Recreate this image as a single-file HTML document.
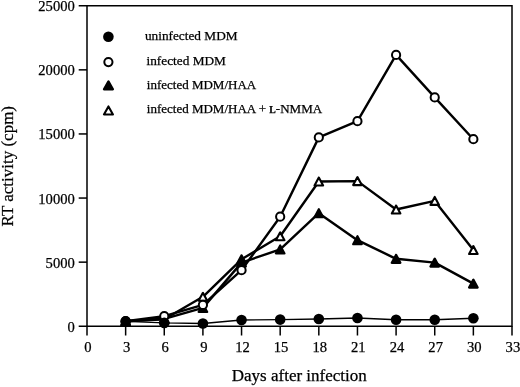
<!DOCTYPE html>
<html lang="en"><head><meta charset="utf-8"><title>RT activity chart</title>
<style>
html,body{margin:0;padding:0;background:#fff}
body{width:520px;height:387px;overflow:hidden}
svg{display:block;font-family:"Liberation Serif",serif;fill:#000}
text{stroke:#000;stroke-width:0.25px}
.ticks text{font-size:14.6px}
.legend text{font-size:13px}
.legend .r12{font-size:13.3px}
.legend .sc{font-size:9.8px;font-weight:bold}
.title{font-size:17px}
</style></head>
<body>
<svg width="520" height="387" viewBox="0 0 520 387">
<rect width="520" height="387" fill="#fff"/>
<g fill="none" stroke="#000" stroke-width="1.5">
<path d="M87.0,5.75 H512.0 V326.25 H87.0 Z"/>
<path d="M78.7,326.25 H87.0"/>
<path d="M78.7,262.15 H87.0"/>
<path d="M78.7,198.05 H87.0"/>
<path d="M78.7,133.95 H87.0"/>
<path d="M78.7,69.85 H87.0"/>
<path d="M78.7,5.75 H87.0"/>
<path d="M87,326.25 V335.5"/>
<path d="M125.64,326.25 V335.5"/>
<path d="M164.27,326.25 V335.5"/>
<path d="M202.91,326.25 V335.5"/>
<path d="M241.55,326.25 V335.5"/>
<path d="M280.18,326.25 V335.5"/>
<path d="M318.82,326.25 V335.5"/>
<path d="M357.45,326.25 V335.5"/>
<path d="M396.09,326.25 V335.5"/>
<path d="M434.73,326.25 V335.5"/>
<path d="M473.36,326.25 V335.5"/>
<path d="M512,326.25 V335.5"/>
</g>
<g class="ticks">
<text x="74.8" y="331.75" text-anchor="end">0</text>
<text x="74.8" y="267.65" text-anchor="end">5000</text>
<text x="74.8" y="203.55" text-anchor="end">10000</text>
<text x="74.8" y="139.45" text-anchor="end">15000</text>
<text x="74.8" y="75.35" text-anchor="end">20000</text>
<text x="74.8" y="11.25" text-anchor="end">25000</text>
<text x="87.9" y="352.4" text-anchor="middle">0</text>
<text x="126.54" y="352.4" text-anchor="middle">3</text>
<text x="165.17" y="352.4" text-anchor="middle">6</text>
<text x="203.81" y="352.4" text-anchor="middle">9</text>
<text x="242.45" y="352.4" text-anchor="middle">12</text>
<text x="281.08" y="352.4" text-anchor="middle">15</text>
<text x="319.72" y="352.4" text-anchor="middle">18</text>
<text x="358.35" y="352.4" text-anchor="middle">21</text>
<text x="396.99" y="352.4" text-anchor="middle">24</text>
<text x="435.63" y="352.4" text-anchor="middle">27</text>
<text x="474.26" y="352.4" text-anchor="middle">30</text>
<text x="512.9" y="352.4" text-anchor="middle">33</text>
</g>
<g fill="none" stroke="#000" stroke-width="2.4" stroke-linejoin="round">
<polyline points="125.64,321.2 164.27,319.2 202.91,296.8 241.55,259.3 280.18,236.3 318.82,181.5 357.45,181.1 396.09,209.5 434.73,200.9 473.36,250"/>
<polyline points="125.64,321.2 164.27,318.8 202.91,307.9 241.55,262.6 280.18,249.4 318.82,213.2 357.45,240.2 396.09,258.8 434.73,262.6 473.36,283.6"/>
<polyline points="125.64,321.2 164.27,316.2 202.91,304.9 241.55,270.2 280.18,216.7 318.82,137.4 357.45,121.2 396.09,54.9 434.73,97.4 473.36,139.2"/>
<polyline points="125.64,321.4 164.27,322.9 202.91,323.5 241.55,320 280.18,319.6 318.82,319 357.45,318 396.09,319.8 434.73,319.8 473.36,318.2" stroke-width="1.4"/>
</g>
<g class="m-ot">
<polygon points="125.64,317.2 121.34,325.2 129.94,325.2" fill="#fff" stroke="#000" stroke-width="2.1" stroke-linejoin="round"/>
<polygon points="164.27,315.2 159.97,323.2 168.57,323.2" fill="#fff" stroke="#000" stroke-width="2.1" stroke-linejoin="round"/>
<polygon points="202.91,292.8 198.61,300.8 207.21,300.8" fill="#fff" stroke="#000" stroke-width="2.1" stroke-linejoin="round"/>
<polygon points="241.55,255.3 237.25,263.3 245.85,263.3" fill="#000" stroke="#000" stroke-width="2.2" stroke-linejoin="round"/>
<polygon points="280.18,232.3 275.88,240.3 284.48,240.3" fill="#fff" stroke="#000" stroke-width="2.1" stroke-linejoin="round"/>
<polygon points="318.82,177.5 314.52,185.5 323.12,185.5" fill="#fff" stroke="#000" stroke-width="2.1" stroke-linejoin="round"/>
<polygon points="357.45,177.1 353.15,185.1 361.75,185.1" fill="#fff" stroke="#000" stroke-width="2.1" stroke-linejoin="round"/>
<polygon points="396.09,205.5 391.79,213.5 400.39,213.5" fill="#fff" stroke="#000" stroke-width="2.1" stroke-linejoin="round"/>
<polygon points="434.73,196.9 430.43,204.9 439.03,204.9" fill="#fff" stroke="#000" stroke-width="2.1" stroke-linejoin="round"/>
<polygon points="473.36,246 469.06,254 477.66,254" fill="#fff" stroke="#000" stroke-width="2.1" stroke-linejoin="round"/>
</g>
<g class="m-ft">
<polygon points="125.64,317.2 121.34,325.2 129.94,325.2" fill="#000" stroke="#000" stroke-width="2.2" stroke-linejoin="round"/>
<polygon points="164.27,314.8 159.97,322.8 168.57,322.8" fill="#000" stroke="#000" stroke-width="2.2" stroke-linejoin="round"/>
<polygon points="202.91,303.9 198.61,311.9 207.21,311.9" fill="#000" stroke="#000" stroke-width="2.2" stroke-linejoin="round"/>
<polygon points="241.55,258.6 237.25,266.6 245.85,266.6" fill="#000" stroke="#000" stroke-width="2.2" stroke-linejoin="round"/>
<polygon points="280.18,245.4 275.88,253.4 284.48,253.4" fill="#000" stroke="#000" stroke-width="2.2" stroke-linejoin="round"/>
<polygon points="318.82,209.2 314.52,217.2 323.12,217.2" fill="#000" stroke="#000" stroke-width="2.2" stroke-linejoin="round"/>
<polygon points="357.45,236.2 353.15,244.2 361.75,244.2" fill="#000" stroke="#000" stroke-width="2.2" stroke-linejoin="round"/>
<polygon points="396.09,254.8 391.79,262.8 400.39,262.8" fill="#000" stroke="#000" stroke-width="2.2" stroke-linejoin="round"/>
<polygon points="434.73,258.6 430.43,266.6 439.03,266.6" fill="#000" stroke="#000" stroke-width="2.2" stroke-linejoin="round"/>
<polygon points="473.36,279.6 469.06,287.6 477.66,287.6" fill="#000" stroke="#000" stroke-width="2.2" stroke-linejoin="round"/>
</g>
<g class="m-oc">
<circle cx="125.64" cy="321.2" r="4.1" fill="#fff" stroke="#000" stroke-width="2"/>
<circle cx="164.27" cy="316.2" r="4.1" fill="#fff" stroke="#000" stroke-width="2"/>
<circle cx="202.91" cy="304.9" r="4.1" fill="#fff" stroke="#000" stroke-width="2"/>
<circle cx="241.55" cy="270.2" r="4.1" fill="#fff" stroke="#000" stroke-width="2"/>
<circle cx="280.18" cy="216.7" r="4.1" fill="#fff" stroke="#000" stroke-width="2"/>
<circle cx="318.82" cy="137.4" r="4.1" fill="#fff" stroke="#000" stroke-width="2"/>
<circle cx="357.45" cy="121.2" r="4.1" fill="#fff" stroke="#000" stroke-width="2"/>
<circle cx="396.09" cy="54.9" r="4.1" fill="#fff" stroke="#000" stroke-width="2"/>
<circle cx="434.73" cy="97.4" r="4.1" fill="#fff" stroke="#000" stroke-width="2"/>
<circle cx="473.36" cy="139.2" r="4.1" fill="#fff" stroke="#000" stroke-width="2"/>
</g>
<g class="m-fc">
<circle cx="125.64" cy="321.4" r="5.3" fill="#000"/>
<circle cx="164.27" cy="322.9" r="5.3" fill="#000"/>
<circle cx="202.91" cy="323.5" r="5.3" fill="#000"/>
<circle cx="241.55" cy="320" r="5.3" fill="#000"/>
<circle cx="280.18" cy="319.6" r="5.3" fill="#000"/>
<circle cx="318.82" cy="319" r="5.3" fill="#000"/>
<circle cx="357.45" cy="318" r="5.3" fill="#000"/>
<circle cx="396.09" cy="319.8" r="5.3" fill="#000"/>
<circle cx="434.73" cy="319.8" r="5.3" fill="#000"/>
<circle cx="473.36" cy="318.2" r="5.3" fill="#000"/>
</g>
<g class="legend">
<circle cx="108.4" cy="36.7" r="5.3" fill="#000"/>
<circle cx="108.4" cy="62.1" r="4.1" fill="#fff" stroke="#000" stroke-width="2"/>
<polygon points="108.45,81.35 103.95,89.35 112.95,89.35" fill="#000" stroke="#000" stroke-width="2.2" stroke-linejoin="round"/>
<polygon points="108.45,106.45 103.95,114.45 112.95,114.45" fill="#fff" stroke="#000" stroke-width="2.1" stroke-linejoin="round"/>
<text class="r12" x="144.9" y="39.6">uninfected MDM</text>
<text class="r12" x="146.5" y="64.8">infected MDM</text>
<text x="146.8" y="89">infected MDM/HAA</text>
<text x="146.8" y="113.4">infected MDM/HAA + <tspan class="sc">L</tspan>-NMMA</text>
</g>
<text class="title" x="299.3" y="381.2" text-anchor="middle">Days after infection</text>
<text class="title" transform="translate(12.9,166.2) rotate(-90)" text-anchor="middle">RT activity (cpm)</text>
</svg>
</body></html>
